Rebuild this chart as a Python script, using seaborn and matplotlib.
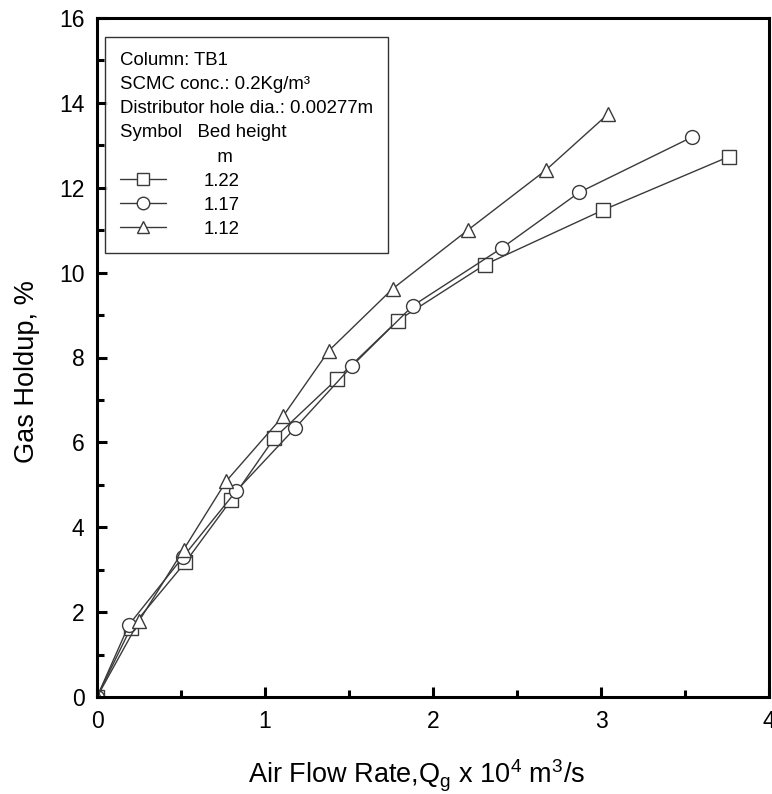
import numpy as np
import pandas as pd
import matplotlib
matplotlib.use("Agg")
import matplotlib.pyplot as plt
import seaborn as sns
from matplotlib.lines import Line2D
from matplotlib.ticker import MultipleLocator

# ---- data ----
bed_heights = ["1.22", "1.17", "1.12"]

qg_122 = [0, 0.20, 0.525, 0.80, 1.055, 1.43, 1.79, 2.31, 3.01, 3.76]
holdup_122 = [0, 1.62, 3.17, 4.65, 6.10, 7.50, 8.87, 10.19, 11.47, 12.73]

qg_117 = [0, 0.19, 0.51, 0.83, 1.18, 1.52, 1.88, 2.41, 2.87, 3.54]
holdup_117 = [0, 1.70, 3.29, 4.86, 6.34, 7.81, 9.22, 10.58, 11.89, 13.19]

qg_112 = [0, 0.25, 0.515, 0.77, 1.11, 1.38, 1.76, 2.21, 2.67, 3.04]
holdup_112 = [0, 1.79, 3.47, 5.09, 6.63, 8.16, 9.62, 11.01, 12.41, 13.73]

df = pd.concat([
    pd.DataFrame({"qg": qg_122, "holdup": holdup_122, "bed": "1.22"}),
    pd.DataFrame({"qg": qg_117, "holdup": holdup_117, "bed": "1.17"}),
    pd.DataFrame({"qg": qg_112, "holdup": holdup_112, "bed": "1.12"}),
])

# ---- style ----
sns.set_style("ticks")
plt.rcParams["font.family"] = ["Liberation Sans", "DejaVu Sans"]
plt.rcParams["mathtext.fontset"] = "custom"
plt.rcParams["mathtext.rm"] = "Liberation Sans"
plt.rcParams["text.color"] = "black"
plt.rcParams["axes.labelcolor"] = "black"
plt.rcParams["xtick.color"] = "black"
plt.rcParams["ytick.color"] = "black"

line_col = "#3a3a3a"
markers = {"1.22": "s", "1.17": "o", "1.12": "^"}
palette = {b: line_col for b in bed_heights}

fig = plt.figure(figsize=(7.72, 7.94), dpi=100)
ax = fig.add_axes([97 / 772, 97 / 794, 672 / 772, 679 / 794])

sns.lineplot(data=df, x="qg", y="holdup", hue="bed", style="bed",
             hue_order=bed_heights, style_order=bed_heights,
             palette=palette, markers=markers, dashes=False,
             markersize=10, markerfacecolor="white",
             markeredgecolor=line_col, markeredgewidth=1.0,
             linewidth=1.0, legend=False, ax=ax)

ax.set_xlim(0, 4)
ax.set_ylim(0, 16)
ax.xaxis.set_major_locator(MultipleLocator(1))
ax.xaxis.set_minor_locator(MultipleLocator(0.5))
ax.yaxis.set_major_locator(MultipleLocator(2))
ax.yaxis.set_minor_locator(MultipleLocator(1))

for s in ax.spines.values():
    s.set_linewidth(2.2)
    s.set_color("black")
ax.tick_params(which="major", direction="in", length=7, width=2.2,
               labelsize=16.5, pad=9, colors="black")
ax.tick_params(which="minor", direction="in", length=5, width=2.2)

ax.set_xlabel(r"Air Flow Rate,Q$_{\mathregular{g}}$ x 10$^{\mathregular{4}}$ m$^{\mathregular{3}}$/s",
              fontsize=19.5, labelpad=18)
ax.set_ylabel("Gas Holdup, %", fontsize=19.5, labelpad=14)
ax.xaxis.label.set_x(0.475)
ax.yaxis.label.set_y(0.479)

# ---- legend box ----
handles = [Line2D([], [], color=line_col, lw=1.0, marker=markers[b],
                  markersize=9, markerfacecolor="white",
                  markeredgecolor=line_col) for b in bed_heights]
title = ("Column: TB1\n"
         "SCMC conc.: 0.2Kg/m³\n"
         "Distributor hole dia.: 0.00277m\n"
         "Symbol   Bed height\n"
         "                   m")
leg = ax.legend(handles, bed_heights, title=title, alignment="left",
                loc="upper left", bbox_to_anchor=(0.012, 0.972),
                borderaxespad=0, fontsize=13.4, title_fontsize=13.4,
                handlelength=2.5, handletextpad=2.0, labelspacing=0.38,
                frameon=True, fancybox=False, edgecolor="black",
                borderpad=0.8)
leg.get_frame().set_linewidth(1.0)
leg.get_title().set_linespacing(1.55)

fig.savefig("out.png", dpi=100)
